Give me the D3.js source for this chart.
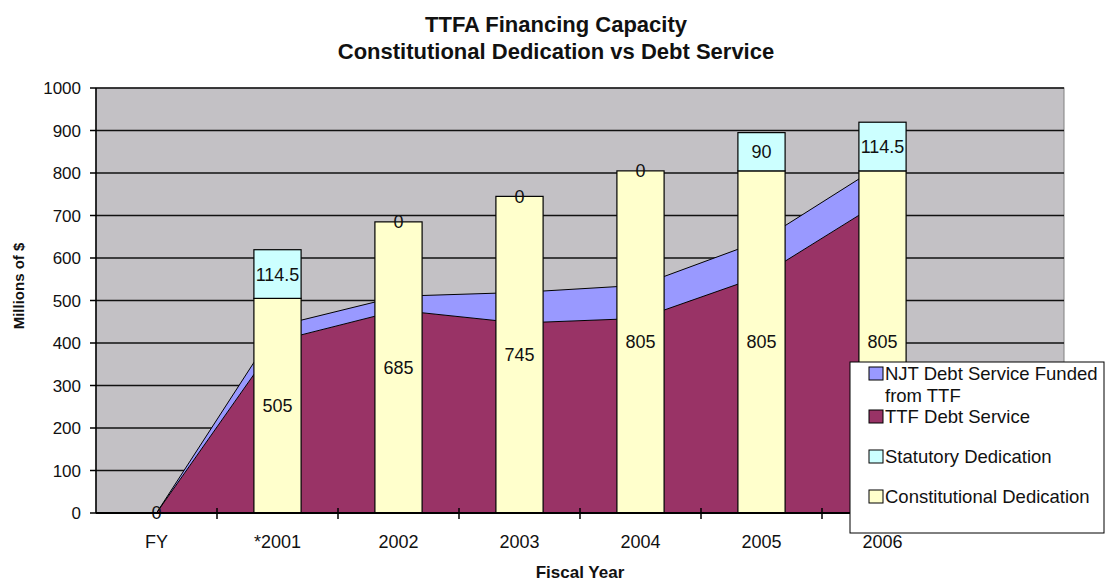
<!DOCTYPE html>
<html>
<head>
<meta charset="utf-8">
<script src="https://cdn.jsdelivr.net/npm/d3@7"></script>
<style>
  body { margin: 0; background: #fff; }
  svg text { font-family: Arial, "Liberation Sans", sans-serif; fill: #111; }
</style>
</head>
<body>
<svg id="chart" width="1106" height="583"></svg>
<script>
// data
const categories = ['FY', '*2001', '2002', '2003', '2004', '2005', '2006', ''];
const constitutional = [0, 505, 685, 745, 805, 805, 805];
const statutory = [0, 114.5, 0, 0, 0, 90, 114.5];
const ttfDebt = [0, 405, 477, 447, 458, 558, 735];
const njtDebt = [0, 35, 33, 72, 78, 83, 86];
const titleLines = ['TTFA Financing Capacity', 'Constitutional Dedication vs Debt Service'];
const legendItems = [
  { lines: ['NJT Debt Service Funded', 'from TTF'], color: '#9999ff' },
  { lines: ['TTF Debt Service'], color: '#993366' },
  { lines: ['Statutory Dedication'], color: '#ccffff' },
  { lines: ['Constitutional Dedication'], color: '#ffffcc' }
];

const svg = d3.select('#chart');
const plotLeft = 96, plotRight = 1064, plotTop = 88, plotBottom = 513;

const x = d3.scaleBand().domain(categories).range([plotLeft, plotRight]).paddingInner(0).paddingOuter(0);
const y = d3.scaleLinear().domain([0, 1000]).range([plotBottom, plotTop]);
const bw = x.bandwidth();
const cx = (i) => x(categories[i]) + bw / 2;

// title
svg.append('g').selectAll('text')
  .data(titleLines)
  .enter().append('text')
  .attr('x', 556)
  .attr('y', (d, i) => 32 + i * 27)
  .attr('text-anchor', 'middle')
  .attr('font-size', 22)
  .attr('font-weight', 'bold')
  .text(d => d);

// plot background
svg.append('rect')
  .attr('x', plotLeft).attr('y', plotTop)
  .attr('width', plotRight - plotLeft).attr('height', plotBottom - plotTop)
  .attr('fill', '#c3c1c5')
  .attr('stroke', '#808080');

// gridlines
svg.append('g').selectAll('line')
  .data(y.ticks(10))
  .enter().append('line')
  .attr('x1', plotLeft).attr('x2', plotRight)
  .attr('y1', d => y(d)).attr('y2', d => y(d))
  .attr('stroke', '#111')
  .attr('stroke-width', 1.5);

// stacked areas (debt service)
let rows = ttfDebt.map((v, i) => ({ i: i, ttf: v, njt: njtDebt[i] }));
let stack = d3.stack().keys(['ttf', 'njt'])(rows);
let areaColors = ['#993366', '#9999ff'];
let area = d3.area()
  .x(d => cx(d.data.i))
  .y0(d => y(d[0]))
  .y1(d => y(d[1]));
let topLine = d3.line()
  .x(d => cx(d.data.i))
  .y(d => y(d[1]));
let areaG = svg.append('g');
areaG.selectAll('path.area')
  .data(stack)
  .enter().append('path')
  .attr('class', 'area')
  .attr('d', area)
  .attr('fill', (d, i) => areaColors[i]);
areaG.selectAll('path.edge')
  .data(stack)
  .enter().append('path')
  .attr('class', 'edge')
  .attr('d', topLine)
  .attr('fill', 'none')
  .attr('stroke', '#000')
  .attr('stroke-width', 1);

// stacked bars (dedications)
let barWidth = bw * 0.39;
let gap = (bw - barWidth) / 2;
let barG = svg.append('g');
let segs = [];
constitutional.forEach((v, i) => {
  segs.push({ i: i, y0: 0, y1: v, value: v, color: '#ffffcc' });
  segs.push({ i: i, y0: v, y1: v + statutory[i], value: statutory[i], color: '#ccffff' });
});
barG.selectAll('rect')
  .data(segs.filter(d => d.value > 0))
  .enter().append('rect')
  .attr('x', d => x(categories[d.i]) + gap)
  .attr('y', d => y(d.y1))
  .attr('width', barWidth)
  .attr('height', d => y(d.y0) - y(d.y1))
  .attr('fill', d => d.color)
  .attr('stroke', '#000')
  .attr('stroke-width', 1.2);

// data labels (skip duplicates sitting on the same spot)
let seen = {};
let labels = segs.filter(d => {
  let k = d.i + '_' + d.value + '_' + (d.y0 + d.y1);
  if (seen[k]) return false;
  seen[k] = true;
  return true;
});
barG.selectAll('text')
  .data(labels)
  .enter().append('text')
  .attr('x', d => cx(d.i))
  .attr('y', d => y((d.y0 + d.y1) / 2))
  .attr('dy', '0.36em')
  .attr('text-anchor', 'middle')
  .attr('font-size', 18)
  .text(d => d.value);

// axes
let axisG = svg.append('g');
axisG.append('line')
  .attr('x1', plotLeft).attr('x2', plotLeft)
  .attr('y1', plotTop).attr('y2', plotBottom)
  .attr('stroke', '#000').attr('stroke-width', 1.5);
axisG.append('line')
  .attr('x1', plotLeft).attr('x2', plotRight)
  .attr('y1', plotBottom).attr('y2', plotBottom)
  .attr('stroke', '#000').attr('stroke-width', 2);
axisG.selectAll('line.ytick')
  .data(y.ticks(10))
  .enter().append('line')
  .attr('class', 'ytick')
  .attr('x1', plotLeft - 6).attr('x2', plotLeft)
  .attr('y1', d => y(d)).attr('y2', d => y(d))
  .attr('stroke', '#000').attr('stroke-width', 1.5);
axisG.selectAll('text.ylab')
  .data(y.ticks(10))
  .enter().append('text')
  .attr('class', 'ylab')
  .attr('x', plotLeft - 15)
  .attr('y', d => y(d))
  .attr('dy', '0.36em')
  .attr('text-anchor', 'end')
  .attr('font-size', 17)
  .text(d => d);
axisG.selectAll('line.xtick')
  .data(categories.slice(1))
  .enter().append('line')
  .attr('class', 'xtick')
  .attr('x1', d => x(d)).attr('x2', d => x(d))
  .attr('y1', plotBottom - 5).attr('y2', plotBottom + 6)
  .attr('stroke', '#000').attr('stroke-width', 1.5);
axisG.selectAll('text.xlab')
  .data(categories)
  .enter().append('text')
  .attr('class', 'xlab')
  .attr('x', d => x(d) + bw / 2)
  .attr('y', 548)
  .attr('text-anchor', 'middle')
  .attr('font-size', 18)
  .text(d => d);

// axis titles
svg.append('text')
  .attr('x', (plotLeft + plotRight) / 2)
  .attr('y', 578)
  .attr('text-anchor', 'middle')
  .attr('font-size', 17)
  .attr('font-weight', 'bold')
  .text('Fiscal Year');
svg.append('text')
  .attr('transform', 'translate(24,286) rotate(-90)')
  .attr('text-anchor', 'middle')
  .attr('font-size', 15)
  .attr('font-weight', 'bold')
  .text('Millions of $');

// legend
let lg = svg.append('g');
lg.append('rect')
  .attr('x', 850).attr('y', 362)
  .attr('width', 254).attr('height', 171)
  .attr('fill', '#fff')
  .attr('stroke', '#000');
let legendY = [367, 410, 450, 490];
let item = lg.selectAll('g.item')
  .data(legendItems)
  .enter().append('g')
  .attr('class', 'item')
  .attr('transform', (d, i) => `translate(869,${legendY[i]})`);
item.append('rect')
  .attr('width', 14).attr('height', 13)
  .attr('fill', d => d.color)
  .attr('stroke', '#000');
item.selectAll('text')
  .data(d => d.lines)
  .enter().append('text')
  .attr('x', 16)
  .attr('y', (d, i) => 13 + i * 22)
  .attr('font-size', 18.5)
  .text(d => d);
</script>
</body>
</html>
